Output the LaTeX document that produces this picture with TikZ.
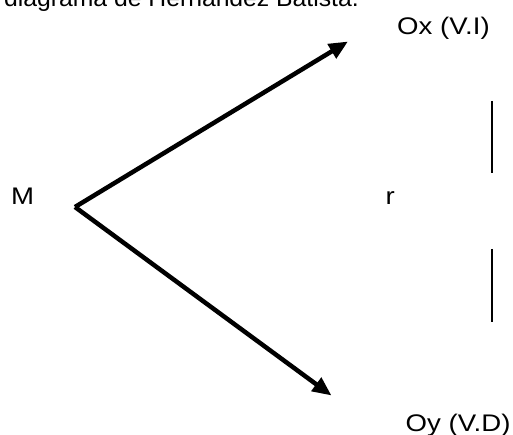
\documentclass[tikz,border=0pt]{standalone}
\usepackage{fontspec}
\setmainfont{Liberation Sans}
\usetikzlibrary{arrows.meta}
\newcommand\widen[2]{\scalebox{#1}[1]{#2}}
\begin{document}
\begin{tikzpicture}[x=1pt,y=-1pt,
  lbl/.style={font=\fontsize{24}{29}\selectfont, inner sep=0pt, anchor=base west},
  arr/.style={line width=4.5pt, -{Triangle[length=19pt,width=16pt]}},
  bar/.style={line width=2pt}]
\useasboundingbox (0,0) rectangle (513,435);
\clip (0,0) rectangle (513,435);
% title (cut off at the top in the reference)
\node[lbl] (title) at (4,6.5) {\widen{1.03}{diagrama de Hernández Batista.}};
% labels
\node[lbl] (M)  at (11,205)    {\widen{1.15}{M}};
\node[lbl] (r)  at (385.5,205) {\widen{1.15}{r}};
\node[lbl] (Ox) at (397,34.7)  {\widen{1.15}{Ox (V.I)}};
\node[lbl] (Oy) at (405.5,431.5) {\widen{1.15}{Oy (V.D)}};
% arrows
\coordinate (o)   at (75,207);
\coordinate (oxt) at (348,41.5);
\coordinate (oyt) at (331.5,395.5);
\draw[arr] (o) -- (oxt);
\draw[arr] (o) -- (oyt);
% vertical bars
\coordinate (b1t) at (491.7,101);
\coordinate (b1b) at (491.7,173);
\coordinate (b2t) at (491.7,249);
\coordinate (b2b) at (491.7,322);
\draw[bar] (b1t) -- (b1b);
\draw[bar] (b2t) -- (b2b);
\end{tikzpicture}
\end{document}
